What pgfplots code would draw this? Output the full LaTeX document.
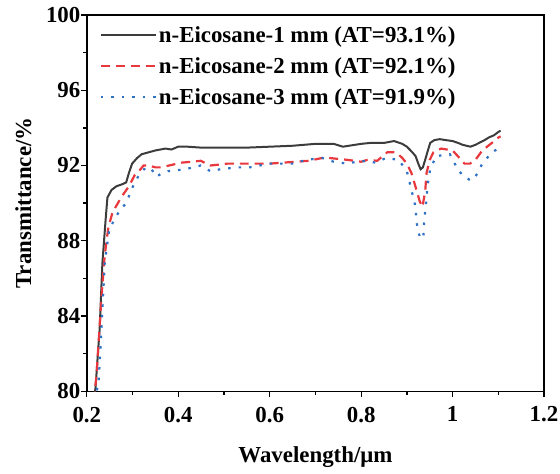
\documentclass[border=0pt]{standalone}
\usepackage{fontspec}
\setmainfont{Liberation Serif}
\usepackage{pgfplots}
\pgfplotsset{compat=1.18}
\definecolor{cblack}{HTML}{3C3C3C}
\definecolor{cred}{HTML}{E8383D}
\definecolor{cblue}{HTML}{2E72C6}
\begin{document}
\begin{tikzpicture}
\begin{axis}[
  name=ax,
  scale only axis, width=458bp, height=377bp,
  xmin=0.2, xmax=1.2, ymin=80, ymax=100,
  xtick={0.2,0.4,0.6,0.8,1,1.2},
  ytick={80,84,88,92,96,100},
  minor x tick num=1, minor y tick num=1,
  tick pos=left, tick align=outside,
  major tick length=6bp, minor tick length=3.5bp,
  axis line style={line width=1.6bp},
  every tick/.style={line width=1.3bp, black},
  /pgf/number format/assume math mode=true,
  tick label style={font=\fontsize{23}{23}\selectfont\bfseries},
  yticklabel style={xshift=3bp},
  xticklabel style={yshift=-6bp},
  xlabel={Wavelength/μm}, ylabel={Transmittance/\%},
  label style={font=\fontsize{23}{23}\selectfont\bfseries},
  xlabel style={at={(axis description cs:0.5,-0.175)}, anchor=center},
  ylabel style={at={(axis description cs:-0.139,0.5)}, anchor=center},
  legend cell align=left,
  legend style={at={(axis description cs:0.028,0.975)}, anchor=north west,
    draw=none, fill=none, inner sep=0pt, row sep=9.5bp,
    font=\fontsize{23}{23}\selectfont\bfseries},
  legend image code/.code={\draw[#1] (0bp,0bp) -- (55bp,0bp);},
]
\addplot[cblack, line width=2bp] coordinates {
(0.215,79.5) (0.219,80.2) (0.228,83.3) (0.234,86.8) (0.241,89.1) (0.245,90.3)
(0.254,90.7) (0.265,90.9) (0.277,91.0) (0.286,91.1) (0.292,91.6) (0.299,92.1)
(0.31,92.4) (0.32,92.6) (0.335,92.7) (0.35,92.8) (0.372,92.9) (0.385,92.85)
(0.4,93.0) (0.42,93.0) (0.45,92.95) (0.5,92.95) (0.55,92.95) (0.6,93.0)
(0.65,93.05) (0.7,93.15) (0.74,93.15) (0.76,93.0) (0.8,93.15) (0.82,93.2)
(0.85,93.2) (0.872,93.3) (0.89,93.15) (0.9,93.0) (0.912,92.7) (0.919,92.5)
(0.925,92.1) (0.93,91.8) (0.935,91.9) (0.94,92.3) (0.946,92.8) (0.951,93.2)
(0.96,93.35) (0.972,93.4) (0.985,93.35) (1.0,93.3) (1.012,93.2) (1.022,93.1)
(1.039,93.0) (1.05,93.1) (1.058,93.2) (1.07,93.35) (1.08,93.5) (1.09,93.6)
(1.101,93.8) (1.105,93.85)
};
\addlegendentry{n-Eicosane-1 mm (AT=93.1\%)}
\addplot[cred, line width=2.2bp, dash pattern=on 9bp off 6bp] coordinates {
(0.215,79.5) (0.221,80.8) (0.232,85.0) (0.239,87.2) (0.247,88.7) (0.256,89.5)
(0.275,90.3) (0.292,90.9) (0.305,91.5) (0.314,91.7) (0.324,92.0) (0.335,92.0)
(0.35,91.9) (0.363,91.9) (0.38,92.0) (0.406,92.15) (0.43,92.2) (0.449,92.25)
(0.47,92.0) (0.49,92.05) (0.507,92.1) (0.55,92.1) (0.6,92.1) (0.657,92.2)
(0.685,92.25) (0.715,92.4) (0.73,92.4) (0.77,92.3) (0.8,92.2) (0.814,92.3)
(0.835,92.25) (0.857,92.7) (0.876,92.7) (0.89,92.4) (0.9,92.1) (0.91,91.6)
(0.921,90.7) (0.928,90.1) (0.934,89.8) (0.94,90.6) (0.943,91.6) (0.95,92.3)
(0.958,92.7) (0.975,92.9) (1.0,92.8) (1.015,92.4) (1.026,92.1) (1.038,92.1)
(1.05,92.3) (1.065,92.8) (1.086,93.2) (1.101,93.5) (1.105,93.55)
};
\addlegendentry{n-Eicosane-2 mm (AT=92.1\%)}
\addplot[cblue, line width=2.2bp, dash pattern=on 2.5bp off 8bp] coordinates {
(0.218,79.5) (0.226,80.6) (0.232,83.3) (0.239,86.8) (0.249,88.6) (0.264,89.3)
(0.275,89.7) (0.286,90.0) (0.299,90.8) (0.314,91.5) (0.325,91.8) (0.339,91.9)
(0.352,91.4) (0.365,91.6) (0.378,91.7) (0.415,91.8) (0.449,92.0) (0.47,91.7)
(0.492,91.8) (0.528,91.9) (0.556,91.9) (0.6,92.1) (0.65,92.1) (0.68,92.3)
(0.715,92.4) (0.74,92.2) (0.77,92.1) (0.8,92.25) (0.833,92.15) (0.854,92.4)
(0.882,92.3) (0.9,91.7) (0.91,90.7) (0.919,89.8) (0.921,89.0) (0.926,88.4)
(0.93,88.1) (0.936,88.2) (0.938,89.1) (0.942,90.0) (0.945,90.9) (0.951,91.8)
(0.964,92.5) (0.994,92.6) (1.011,91.8) (1.025,91.4) (1.033,91.3) (1.04,91.2)
(1.05,91.4) (1.065,92.1) (1.086,92.7) (1.1,92.9) (1.105,92.95)
};
\addlegendentry{n-Eicosane-3 mm (AT=91.9\%)}
\end{axis}
\pgfresetboundingbox
\path ([xshift=-87bp,yshift=-82bp]ax.south west) rectangle ([xshift=16bp,yshift=15bp]ax.north east);
\end{tikzpicture}
\end{document}
